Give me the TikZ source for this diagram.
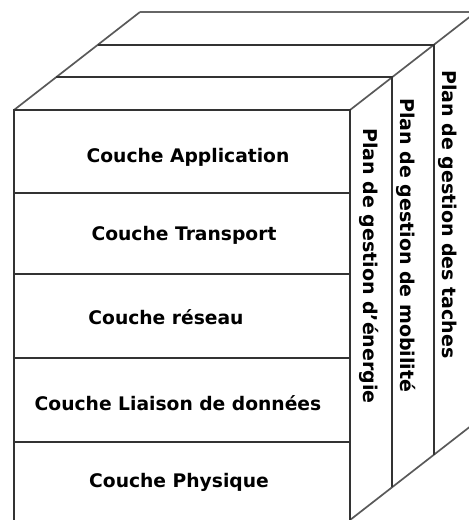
\documentclass[tikz,border=0pt]{standalone}
\usepackage{fontspec}
\setmainfont{DejaVu Sans}
\usetikzlibrary{calc}
\begin{document}
\begin{tikzpicture}[x=1pt,y=-1pt,
  edge/.style={draw=black!80, line width=1.9pt},
  depthedge/.style={draw=black!65, line width=1.7pt},
  backedge/.style={draw=black!60, line width=2.6pt},
  layer/.style={inner sep=0pt, font=\bfseries\fontsize{18.7}{22}\selectfont},
  plane/.style={inner sep=0pt, rotate=-90, anchor=west, font=\bfseries\fontsize{19}{22}\selectfont}]
\useasboundingbox (0,0) rectangle (469,520);
\clip (0,0) rectangle (469,520);

% corners of the front face
\coordinate (ftl) at (14,110);
\coordinate (ftr) at (350,110);
\coordinate (fbr) at (350,520);
\coordinate (fbl) at (14,520);

% one slab of depth
\def\dx{42}
\def\dy{-32.67}

% top faces of the three slabs and the back edge
\draw[depthedge] (ftl) -- ++(3*\dx,3*\dy);
\draw[depthedge] (ftr) -- ++(3*\dx,3*\dy);
\draw[depthedge] (fbr) -- ++(3*\dx,3*\dy);
\draw[edge] ($(ftl)+(\dx,\dy)$) -- ($(ftr)+(\dx,\dy)$) -- ($(fbr)+(\dx,\dy)$);
\draw[edge] ($(ftl)+(2*\dx,2*\dy)$) -- ($(ftr)+(2*\dx,2*\dy)$) -- ($(fbr)+(2*\dx,2*\dy)$);
\draw[backedge] ($(ftl)+(3*\dx,3*\dy)$) -- ($(ftr)+(3*\dx,3*\dy)$);

% front face with the five layers
\draw[edge] (fbl) -- (ftl) -- (ftr) -- (fbr);
\draw[edge] (14,193) -- (350,193);
\draw[edge] (14,274) -- (350,274);
\draw[edge] (14,358) -- (350,358);
\draw[edge] (14,442) -- (350,442);

\node[layer] (app)  at (188,157) {Couche Application};
\node[layer] (tra)  at (184,235) {Couche Transport};
\node[layer] (res)  at (166,317) {Couche réseau};
\node[layer] (lia)  at (178,403) {Couche Liaison de données};
\node[layer] (phy)  at (179,482) {Couche Physique};

% management planes on the side faces
\node[plane] (ener) at (369,128) {Plan de gestion d'énergie};
\node[plane] (mobi) at (406,98)  {Plan de gestion de mobilité};
\node[plane] (tach) at (447.5,70) {Plan de gestion des taches};
\end{tikzpicture}
\end{document}
